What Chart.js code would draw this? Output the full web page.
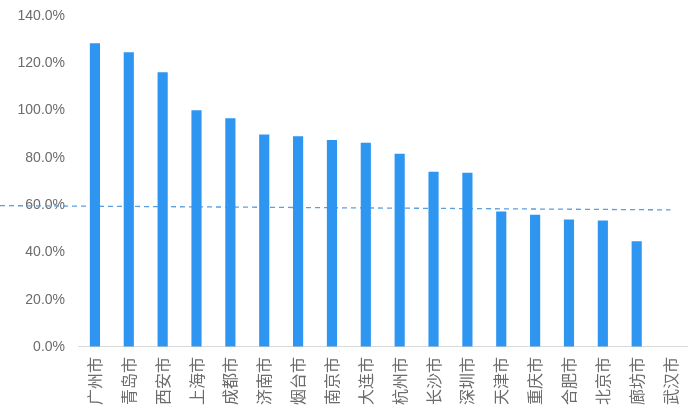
<!DOCTYPE html>
<html>
<head>
<meta charset="utf-8">
<script src="https://cdn.jsdelivr.net/npm/chart.js@4.4.1/dist/chart.umd.min.js"></script>
<style>
  html, body { margin: 0; padding: 0; background: #fff; }
  #wrap { width: 700px; height: 420px; position: relative; }
</style>
</head>
<body>
<div id="wrap"><canvas id="chartDiv"></canvas></div>
<script>
const cities = ['广州市', '青岛市', '西安市', '上海市', '成都市', '济南市', '烟台市', '南京市', '大连市',
  '杭州市', '长沙市', '深圳市', '天津市', '重庆市', '合肥市', '北京市', '廊坊市', '武汉市']
const ratios = [128.5, 124.7, 116.2, 100.1, 96.7, 89.9, 89.1, 87.6, 86.4,
  81.7, 74.1, 73.7, 57.3, 55.9, 53.9, 53.5, 44.7, null]
const yTicks = [0, 20, 40, 60, 80, 100, 120, 140]
// dashed reference line: value at left edge of canvas, value at last category
const refStart = 59.8
const refEnd = 58.0

const refLine = {
  id: 'refLine',
  beforeDatasetsDraw(chart) {
    const ctx = chart.ctx
    const x = chart.scales.x
    const y = chart.scales.y
    const x1 = x.getPixelForValue(cities.length - 1)
    ctx.save()
    ctx.strokeStyle = '#5a9fe0'
    ctx.lineWidth = 1.3
    ctx.setLineDash([5, 4])
    ctx.beginPath()
    ctx.moveTo(0, y.getPixelForValue(refStart))
    ctx.lineTo(x1, y.getPixelForValue(refEnd))
    ctx.stroke()
    ctx.restore()
  }
}

const chartElement = document.getElementById('chartDiv')

new Chart(chartElement, {
  type: 'bar',
  data: {
    labels: cities,
    datasets: [{
      data: ratios,
      backgroundColor: '#2e95f0',
      categoryPercentage: 1,
      barPercentage: 0.3,
    }]
  },
  options: {
    responsive: true,
    maintainAspectRatio: false,
    animation: false,
    layout: {
      padding: { top: 0, right: 9, bottom: 5, left: 0 }
    },
    scales: {
      y: {
        min: 0,
        max: 140,
        afterBuildTicks: (scale) => { scale.ticks = yTicks.map(v => ({ value: v })) },
        afterFit: (scale) => { scale.width = 78; scale.paddingTop = 16 },
        grid: {
          drawTicks: false,
          color: (c) => c.tick && c.tick.value === 0 ? '#d9d9d9' : 'rgba(0,0,0,0)'
        },
        border: { display: false },
        ticks: {
          padding: 13,
          color: '#6b6b6b',
          font: { size: 14, family: '"Liberation Sans", Arial, sans-serif' },
          callback: (v) => v.toFixed(1) + '%'
        }
      },
      x: {
        grid: { display: false, drawTicks: false },
        border: { display: true, color: '#d9d9d9' },
        ticks: {
          padding: 10,
          minRotation: 90,
          maxRotation: 90,
          autoSkip: false,
          color: '#6b6b6b',
          font: { size: 16, family: '"Noto Sans CJK SC", sans-serif' }
        }
      }
    },
    plugins: {
      legend: { display: false },
      tooltip: { enabled: false }
    }
  },
  plugins: [refLine]
});
</script>
</body>
</html>
